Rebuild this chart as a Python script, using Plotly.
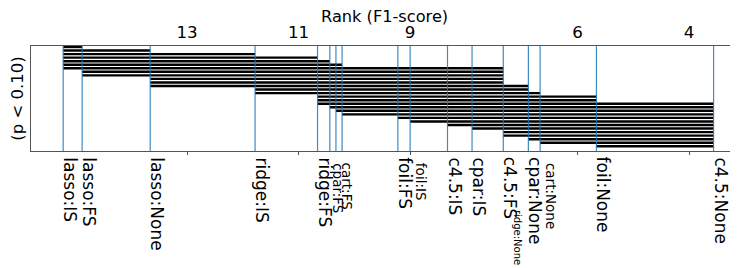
import plotly.graph_objects as go

# ---------------- data ----------------
methods = ['lasso:IS', 'lasso:FS', 'lasso:None', 'ridge:IS', 'ridge:FS',
           'cpar:FS', 'cart:FS', 'ridge:None', 'foil:FS', 'foil:IS',
           'c4.5:IS', 'cpar:IS', 'c4.5:FS', 'cpar:None', 'cart:None',
           'foil:None', 'c4.5:None']
mean_ranks = [15.22, 14.88, 13.66, 11.78, 10.66,
              10.44, 10.33, 10.22, 9.22, 9.00,
              8.33, 7.89, 7.33, 6.88, 6.67,
              5.66, 3.56]

# non-significant pairs (row by row, top to bottom)
bar_start = (['lasso:IS'] * 7 + ['lasso:FS'] * 2 + ['lasso:None'] * 3 +
             ['ridge:IS'] * 2 + ['ridge:FS'] * 3 +
             ['cpar:FS', 'cart:FS', 'ridge:None', 'foil:FS', 'foil:IS',
              'c4.5:IS', 'cpar:IS', 'c4.5:FS', 'c4.5:FS', 'cpar:None',
              'cart:None', 'foil:None'])
bar_end = (['lasso:FS', 'lasso:None', 'ridge:IS', 'ridge:FS', 'cpar:FS',
            'ridge:None', 'c4.5:FS',
            'c4.5:FS', 'c4.5:FS',
            'c4.5:FS', 'c4.5:FS', 'cpar:None',
            'cpar:None', 'cart:None',
            'foil:None', 'foil:None', 'c4.5:None'] + ['c4.5:None'] * 12)

tick_vals = [13, 11, 9, 6, 4]
tick_text = ['13', '11', '9', '6', '4']

x_title = 'Rank (F1-score)'
y_title = '(p < 0.10)'

# ---------------- style ----------------
FONT = 'DejaVu Sans'
small_labels = {'cpar:FS': 3, 'cart:FS': 7, 'ridge:None': 173,
                'foil:IS': 6, 'cart:None': 6}
label_font_small = {'ridge:None': 10}

rank_of = dict(zip(methods, mean_ranks))
n_rows = len(bar_start)

fig = go.Figure()

# horizontal bars
for i, (s, e) in enumerate(zip(bar_start, bar_end)):
    fig.add_trace(go.Scatter(
        x=[rank_of[s], rank_of[e]], y=[i, i], mode='lines',
        line=dict(color='black', width=2.4), hoverinfo='skip',
        showlegend=False, xaxis='x', yaxis='y'))

# vertical method lines
for m in methods:
    fig.add_shape(type='line', xref='x', yref='paper',
                  x0=rank_of[m], x1=rank_of[m], y0=0, y1=1,
                  line=dict(color='#1f77b4', width=1.2), opacity=0.85,
                  layer='above')

# method labels
for m in methods:
    if m in small_labels:
        size = label_font_small.get(m, 13.5)
        xs = small_labels[m]
        ys = -10 if m != 'ridge:None' else -57
    else:
        size = 17
        xs = 0
        ys = -4
    fig.add_annotation(x=rank_of[m], xref='x', y=0, yref='paper',
                       text=m, textangle=90, showarrow=False,
                       xanchor='left', yanchor='top',
                       xshift=xs - 5, yshift=ys,
                       font=dict(family=FONT, size=size, color='black'))

# x-axis title (above the top tick labels)
fig.add_annotation(x=0.5, xref='paper', y=1, yref='paper', text=x_title,
                   showarrow=False, xanchor='center', yanchor='middle',
                   yshift=29.5, borderpad=0,
                   font=dict(family=FONT, size=16.2, color='black'))

# dummy trace for bottom tick axis
fig.add_trace(go.Scatter(x=[mean_ranks[0]], y=[0], mode='markers',
                         marker=dict(opacity=0), hoverinfo='skip',
                         showlegend=False, xaxis='x2', yaxis='y'))

# page body has an 8px default margin: figure is 730x260 inside 738x268
xr = [15.797, 3.122]
fig.update_layout(
    width=730, height=260,
    margin=dict(l=23, r=0, t=38, b=117, autoexpand=False),
    paper_bgcolor='white', plot_bgcolor='white',
    font=dict(family=FONT, size=16.5, color='black'),
    xaxis=dict(range=xr, side='top', tickvals=tick_vals, ticktext=tick_text,
               ticks='', showgrid=False, zeroline=False, automargin=False,
               showline=True, linecolor='#555555', linewidth=1, mirror=True,
               tickfont=dict(family=FONT, size=16.7, color='black'),
               ticklabelstandoff=0),
    xaxis2=dict(range=xr, overlaying='x', side='bottom', tickvals=tick_vals,
                ticks='outside', ticklen=3, tickcolor='#555555',
                showticklabels=False, showgrid=False, zeroline=False,
                showline=False, automargin=False),
    yaxis=dict(range=[n_rows + 0.33, -0.28], showticklabels=False,
               ticks='', showgrid=False, zeroline=False, automargin=False,
               showline=True, linecolor='#555555', linewidth=1, mirror=True,
               title=dict(text=y_title, standoff=3,
                          font=dict(family=FONT, size=16.5, color='black'))),
)

fig.write_html('out.html')
